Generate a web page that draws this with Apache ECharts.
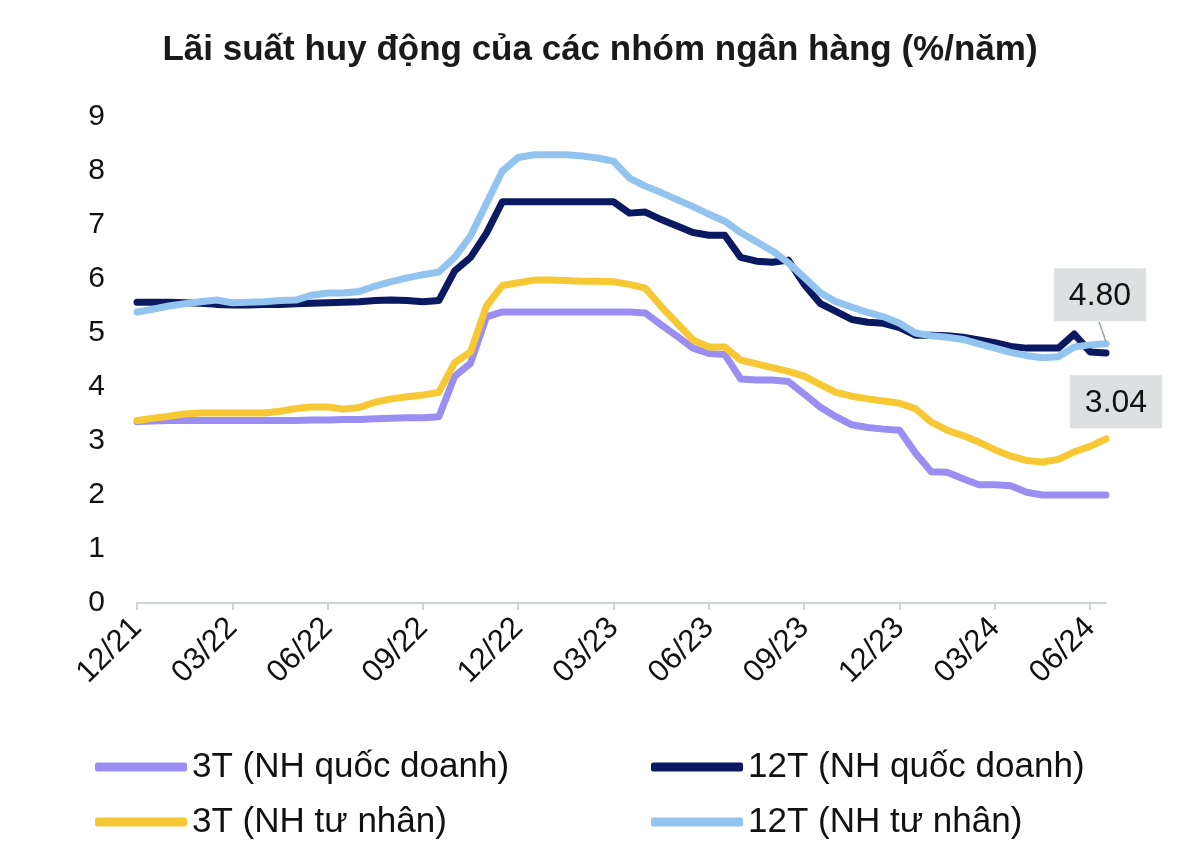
<!DOCTYPE html>
<html>
<head>
<meta charset="utf-8">
<script src="https://cdn.jsdelivr.net/npm/echarts@6/dist/echarts.min.js"></script>
<style>html,body{margin:0;padding:0;background:#fff;}#c{width:1200px;height:847px;}</style>
</head>
<body>
<div id="c"></div>
<script>
// Half-month dates (day/month/year)
var categories = [
 '1/12/21','15/12/21','1/01/22','15/01/22','1/02/22','15/02/22','1/03/22','15/03/22','1/04/22','15/04/22',
 '1/05/22','15/05/22','1/06/22','15/06/22','1/07/22','15/07/22','1/08/22','15/08/22','1/09/22','15/09/22',
 '1/10/22','15/10/22','1/11/22','15/11/22','1/12/22','15/12/22','1/01/23','15/01/23','1/02/23','15/02/23',
 '1/03/23','15/03/23','1/04/23','15/04/23','1/05/23','15/05/23','1/06/23','15/06/23','1/07/23','15/07/23',
 '1/08/23','15/08/23','1/09/23','15/09/23','1/10/23','15/10/23','1/11/23','15/11/23','1/12/23','15/12/23',
 '1/01/24','15/01/24','1/02/24','15/02/24','1/03/24','15/03/24','1/04/24','15/04/24','1/05/24','15/05/24',
 '1/06/24','15/06/24'
];
var tickLabels = ['12/21','03/22','06/22','09/22','12/22','03/23','06/23','09/23','12/23','03/24','06/24'];
var yTicks = [0,1,2,3,4,5,6,7,8,9];

var s3tQD = [3.36,3.37,3.38,3.38,3.38,3.38,3.38,3.38,3.38,3.38,
 3.38,3.39,3.39,3.40,3.40,3.41,3.42,3.43,3.43,3.45,
 4.20,4.44,5.30,5.39,5.39,5.39,5.39,5.39,5.39,5.39,
 5.39,5.39,5.37,5.15,4.94,4.72,4.62,4.60,4.15,4.13,
 4.13,4.10,3.87,3.63,3.45,3.30,3.25,3.22,3.20,2.78,
 2.43,2.42,2.30,2.19,2.19,2.17,2.05,2.00,2.00,2.00,
 2.00,2.00];
var s12tQD = [5.57,5.57,5.57,5.56,5.55,5.53,5.52,5.52,5.53,5.53,
 5.54,5.55,5.56,5.57,5.58,5.60,5.61,5.60,5.58,5.60,
 6.15,6.40,6.85,7.43,7.43,7.43,7.43,7.43,7.43,7.43,
 7.43,7.22,7.24,7.10,6.98,6.86,6.81,6.81,6.40,6.33,
 6.31,6.35,5.90,5.55,5.40,5.25,5.20,5.18,5.10,4.96,
 4.96,4.95,4.92,4.87,4.82,4.75,4.72,4.72,4.72,4.98,
 4.65,4.63];
var s3tTN = [3.38,3.42,3.46,3.50,3.52,3.52,3.52,3.52,3.52,3.55,
 3.60,3.63,3.63,3.59,3.62,3.72,3.78,3.82,3.85,3.90,
 4.45,4.65,5.50,5.88,5.93,5.98,5.98,5.97,5.96,5.96,
 5.95,5.90,5.83,5.49,5.18,4.87,4.74,4.74,4.50,4.43,
 4.36,4.29,4.20,4.05,3.90,3.83,3.78,3.74,3.70,3.60,
 3.35,3.20,3.10,2.98,2.84,2.72,2.64,2.61,2.66,2.80,
 2.90,3.04];
var s12tTN = [5.39,5.44,5.50,5.54,5.58,5.61,5.56,5.57,5.58,5.60,
 5.61,5.70,5.74,5.74,5.77,5.87,5.95,6.02,6.08,6.13,
 6.40,6.80,7.40,8.00,8.25,8.30,8.30,8.30,8.28,8.24,
 8.18,7.87,7.72,7.60,7.47,7.34,7.20,7.07,6.86,6.69,
 6.52,6.30,6.03,5.75,5.58,5.48,5.38,5.30,5.18,5.00,
 4.95,4.92,4.88,4.80,4.72,4.64,4.58,4.54,4.56,4.74,
 4.78,4.80];

var names = ['3T (NH quốc doanh)','12T (NH quốc doanh)','3T (NH tư nhân)','12T (NH tư nhân)'];
var colors = ['#9b8ef2','#0b1862','#f6c934','#92c4ef'];
var FONT = 'Liberation Sans, Arial, sans-serif';

var last = categories.length - 1;
function endMark(arr, distance, offset){
  return {
    symbol:'circle', symbolSize:1, silent:true, animation:false,
    itemStyle:{color:'rgba(0,0,0,0)'},
    label:{show:true, position:'top', distance:distance, offset:offset,
      formatter:function(p){ return p.value.toFixed(2); },
      backgroundColor:'#dde0e1', padding:[12,15,9,15], fontSize:32, color:'#111', fontFamily:FONT},
    data:[{coord:[last, arr[last]], value:arr[last]}]
  };
}

var chart = echarts.init(document.getElementById('c'));
var legendText = {fontSize:35, color:'#111', fontFamily:FONT, lineHeight:40};
function mkLegend(idx, left, top){
  return {data:[names[idx]], left:left, top:top, itemWidth:92, itemHeight:9, icon:'roundRect',
    textStyle:legendText, padding:0, selectedMode:false};
}
function mkSeries(idx, data, extra){
  return Object.assign({
    name:names[idx], type:'line', data:data, symbol:'none', smooth:false,
    lineStyle:{width:7, color:colors[idx], cap:'round', join:'round'},
    itemStyle:{color:colors[idx]}, animation:false
  }, extra||{});
}
chart.setOption({
  animation:false,
  backgroundColor:'#fff',
  title:{text:'Lãi suất huy động của các nhóm ngân hàng (%/năm)', left:'center', top:28,
    textStyle:{fontSize:35, fontWeight:'bold', color:'#1a1a1a', fontFamily:FONT}},
  grid:{left:137, right:94, top:117, bottom:244, containLabel:false},
  legend:[
    mkLegend(0, 95, 747), mkLegend(1, 651, 747),
    mkLegend(2, 95, 802), mkLegend(3, 651, 802)
  ],
  xAxis:{type:'category', data:categories, boundaryGap:false,
    axisLine:{lineStyle:{color:'#cdd5d2', width:2}},
    axisTick:{interval:5, length:7, lineStyle:{color:'#cdd5d2', width:2}},
    axisLabel:{interval:5, rotate:45, margin:20, fontSize:31, color:'#111', fontFamily:FONT,
      formatter:function(v){var s=v.slice(v.indexOf('/')+1); return tickLabels.indexOf(s)>=0?s:'';}},
    splitLine:{show:false}},
  yAxis:{type:'value', min:yTicks[0], max:yTicks[yTicks.length-1], interval:1,
    axisLine:{show:false}, axisTick:{show:false}, splitLine:{show:false},
    axisLabel:{fontSize:30, color:'#111', margin:32, fontFamily:FONT}},
  series:[
    mkSeries(0, s3tQD),
    mkSeries(1, s12tQD),
    mkSeries(2, s3tTN, {markPoint:endMark(s3tTN, 10, [10,0])}),
    mkSeries(3, s12tTN, {markPoint:endMark(s12tTN, 22, [-6,0])})
  ]
});

// leader line from the 4.80 box down to the end of the series
var p = chart.convertToPixel({gridIndex:0}, [last, s12tTN[last]]);
chart.setOption({graphic:[{type:'line', silent:true, z:10,
  shape:{x1:p[0]-7, y1:p[1]-22, x2:p[0], y2:p[1]-2},
  style:{stroke:'#9aa3a3', lineWidth:1.5}}]});
</script>
</body>
</html>
